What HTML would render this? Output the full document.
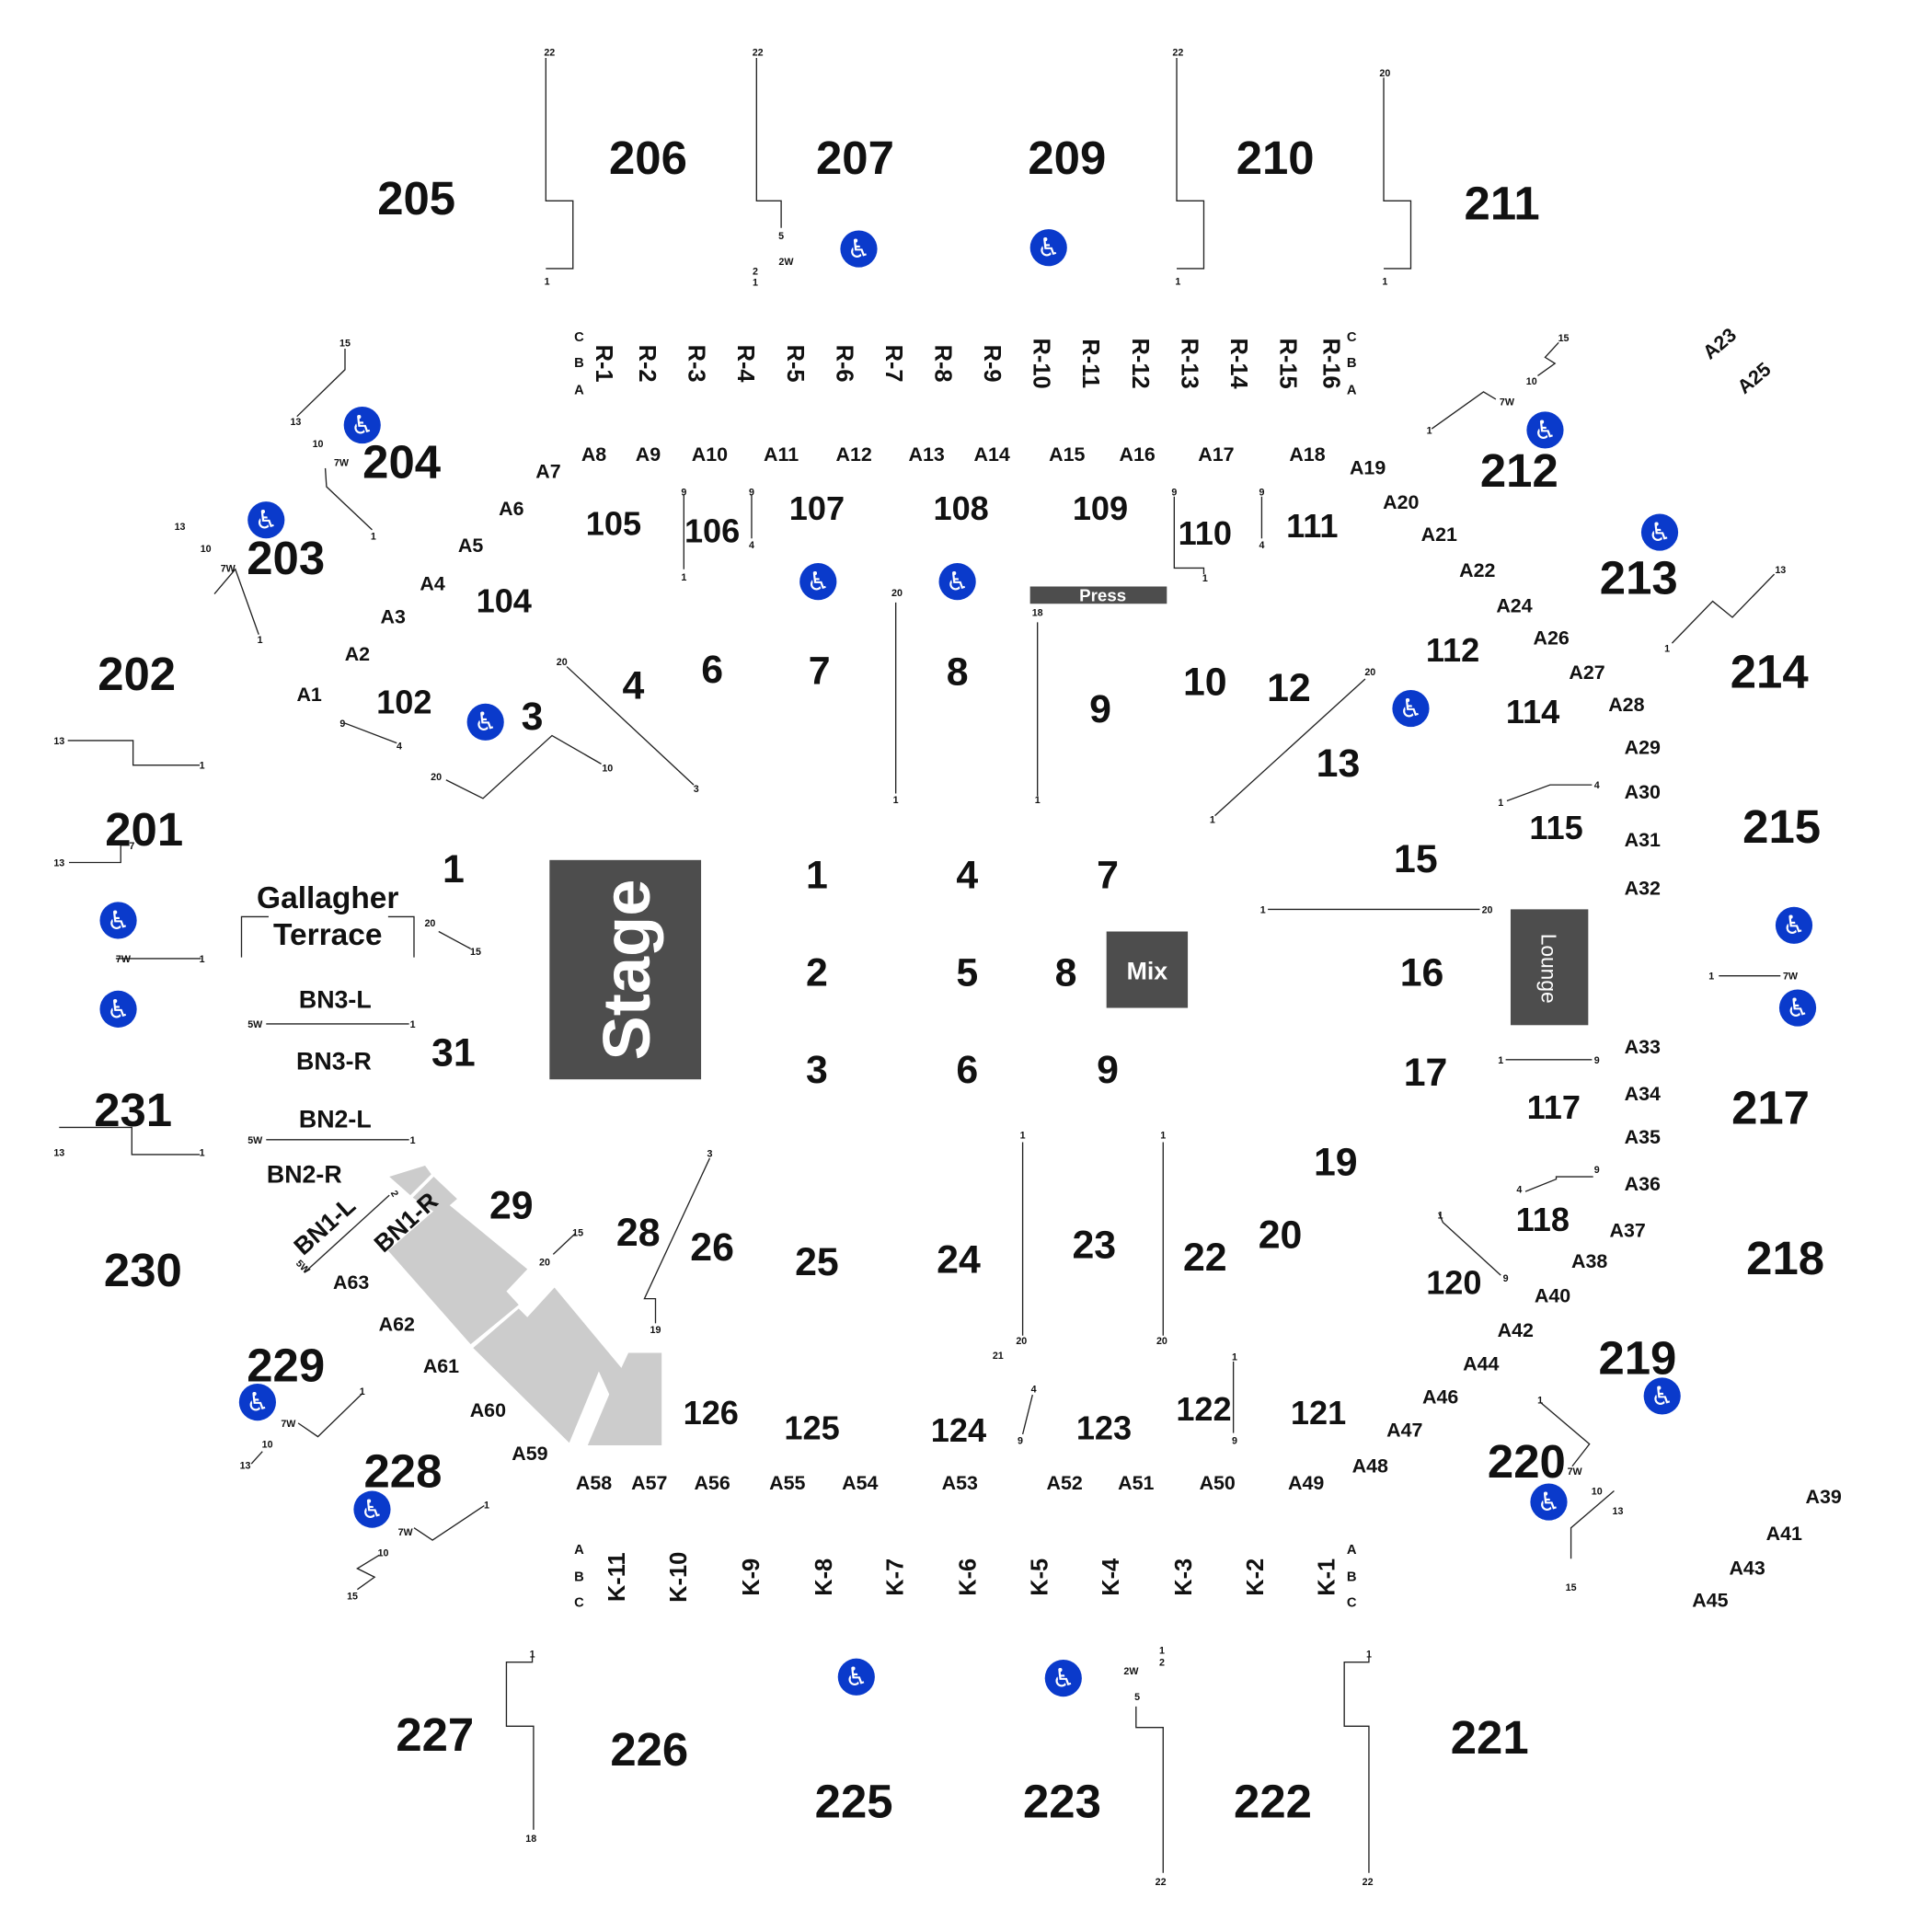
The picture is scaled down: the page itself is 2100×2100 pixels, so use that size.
<!DOCTYPE html>
<html><head><meta charset="utf-8"><style>
html,body{margin:0;padding:0;background:#fff}
svg{display:block}
text{font-family:"Liberation Sans",sans-serif;font-weight:bold;fill:#111;text-anchor:middle}
.b{font-size:38px}.m{font-size:27px}.f{font-size:32px}.a{font-size:16px}.s{font-size:8px;font-weight:normal}.r{font-size:19px}.c{font-size:11px;font-weight:normal}
line,polyline{stroke:#222;stroke-width:1;fill:none}
</style></head><body>
<svg width="2100" height="2100" viewBox="0 0 1568 1568" xmlns="http://www.w3.org/2000/svg">
<defs><g id="wc"><circle r="15" fill="#0a3acb"/><text y="7" style="font-size:21px;fill:#fff;font-family:'DejaVu Sans',sans-serif;font-weight:normal">♿</text></g></defs>
<rect x="446" y="698" width="123" height="178" fill="#4d4d4d"/>
<text transform="translate(527,787) rotate(-90)" style="font-size:54px;fill:#fff">Stage</text>
<rect x="898" y="756" width="66" height="62" fill="#4d4d4d"/>
<text x="931" y="795" style="font-size:20px;fill:#fff">Mix</text>
<rect x="1226" y="738" width="63" height="94" fill="#4d4d4d"/>
<text transform="translate(1251,786) rotate(90)" style="font-size:17px;fill:#fff;font-weight:normal">Lounge</text>
<rect x="836" y="476" width="111" height="14" fill="#4d4d4d"/>
<text x="895" y="488" style="font-size:14px;fill:#fff">Press</text>
<g fill="#cccccc">
<polygon points="316,955 345,946 350,953 333,970"/>
<polygon points="335,972 352,955 371,973 356,986"/>
<polygon points="315,1015 361,975 428,1030 411,1048 421,1059 382,1091"/>
<polygon points="384,1094 421,1062 428,1069 450,1045 505,1111 496,1135 486,1113 462,1171"/>
<polygon points="477,1173 496,1128 510,1098 537,1098 537,1173"/>
</g>
<polyline points="443,47 443,163 465,163 465,218 443,218"/>
<polyline points="614,47 614,163 634,163 634,185"/>
<polyline points="955,47 955,163 977,163 977,218 955,218"/>
<polyline points="1123,63 1123,163 1145,163 1145,218 1123,218"/>
<polyline points="280,283 280,300 241,338"/>
<polyline points="264,380 265,395 302,430"/>
<polyline points="174,482 191,462 210,515"/>
<polyline points="55,601 108,601 108,621 162,621"/>
<polyline points="56,700 98,700 98,686 105,686"/>
<polyline points="94,778 163,778"/>
<polyline points="48,915 107,915 107,937 162,937"/>
<polyline points="196,777 196,744 218,744"/>
<polyline points="315,744 336,744 336,777"/>
<line x1="356" y1="756" x2="382" y2="770"/>
<line x1="216" y1="831" x2="332" y2="831"/>
<line x1="216" y1="925" x2="332" y2="925"/>
<line x1="248" y1="1032" x2="316" y2="970"/>
<line x1="280" y1="587" x2="322" y2="603"/>
<polyline points="362,633 392,648 448,597 488,620"/>
<line x1="460" y1="541" x2="563" y2="637"/>
<line x1="555" y1="402" x2="555" y2="462"/>
<line x1="610" y1="402" x2="610" y2="437"/>
<line x1="727" y1="489" x2="727" y2="644"/>
<line x1="842" y1="505" x2="842" y2="646"/>
<polyline points="953,403 953,461 977,461 977,466"/>
<line x1="1024" y1="403" x2="1024" y2="437"/>
<polyline points="1162,348 1204,318 1214,324"/>
<polyline points="1265,278 1254,290 1262,295 1248,305"/>
<polyline points="1357,522 1390,488 1406,501 1440,466"/>
<line x1="986" y1="662" x2="1108" y2="551"/>
<polyline points="1223,650 1258,637 1292,637"/>
<line x1="1029" y1="738" x2="1201" y2="738"/>
<line x1="1395" y1="792" x2="1445" y2="792"/>
<line x1="1222" y1="860" x2="1292" y2="860"/>
<polyline points="1238,967 1263,957 1263,955 1293,955"/>
<polyline points="1168,985 1171,992 1218,1035"/>
<line x1="830" y1="927" x2="830" y2="1084"/>
<line x1="944" y1="927" x2="944" y2="1084"/>
<line x1="1001" y1="1105" x2="1001" y2="1163"/>
<line x1="838" y1="1132" x2="830" y2="1164"/>
<polyline points="576,940 523,1054 532,1054 532,1074"/>
<line x1="449" y1="1018" x2="467" y2="1001"/>
<polyline points="242,1155 258,1166 294,1131"/>
<line x1="204" y1="1188" x2="213" y2="1178"/>
<polyline points="336,1240 351,1250 393,1222"/>
<polyline points="290,1290 304,1280 290,1273 308,1262"/>
<polyline points="1250,1138 1290,1172 1276,1190"/>
<polyline points="1275,1265 1275,1240 1310,1210"/>
<polyline points="922,1385 922,1402 944,1402 944,1520"/>
<polyline points="432,1345 432,1349 411,1349 411,1401 433,1401 433,1485"/>
<polyline points="1111,1345 1111,1349 1091,1349 1091,1401 1111,1401 1111,1520"/>
<g class="s">
<text x="446" y="45">22</text><text x="444" y="231">1</text>
<text x="615" y="45">22</text><text x="634" y="194">5</text><text x="613" y="223">2</text><text x="613" y="232">1</text><text x="638" y="215">2W</text>
<text x="956" y="45">22</text><text x="956" y="231">1</text>
<text x="1124" y="62">20</text><text x="1124" y="231">1</text>
<text x="280" y="281">15</text><text x="240" y="345">13</text><text x="258" y="363">10</text><text x="277" y="378">7W</text><text x="303" y="438">1</text>
<text x="146" y="430">13</text><text x="167" y="448">10</text><text x="185" y="464">7W</text><text x="211" y="522">1</text>
<text x="48" y="604">13</text><text x="164" y="624">1</text>
<text x="48" y="703">13</text><text x="107" y="689">7</text>
<text x="100" y="781">7W</text><text x="164" y="781">1</text>
<text x="349" y="752">20</text><text x="386" y="775">15</text>
<text x="207" y="834">5W</text><text x="335" y="834">1</text>
<text x="207" y="928">5W</text><text x="335" y="928">1</text>
<text x="48" y="938">13</text><text x="164" y="938">1</text>
<text x="278" y="590">9</text><text x="324" y="608">4</text>
<text x="354" y="633">20</text><text x="493" y="626">10</text>
<text x="456" y="540">20</text><text x="565" y="643">3</text>
<text x="555" y="402">9</text><text x="555" y="471">1</text><text x="610" y="402">9</text><text x="610" y="445">4</text>
<text x="728" y="484">20</text><text x="727" y="652">1</text>
<text x="842" y="500">18</text><text x="842" y="652">1</text>
<text x="953" y="402">9</text><text x="978" y="472">1</text><text x="1024" y="402">9</text><text x="1024" y="445">4</text>
<text x="1160" y="352">1</text><text x="1223" y="329">7W</text><text x="1243" y="312">10</text><text x="1269" y="277">15</text>
<text x="1353" y="529">1</text><text x="1445" y="465">13</text>
<text x="1112" y="548">20</text><text x="984" y="668">1</text>
<text x="1218" y="654">1</text><text x="1296" y="640">4</text>
<text x="1025" y="741">1</text><text x="1207" y="741">20</text>
<text x="1389" y="795">1</text><text x="1453" y="795">7W</text>
<text x="1218" y="863">1</text><text x="1296" y="863">9</text>
<text x="1296" y="952">9</text><text x="1233" y="968">4</text>
<text x="1169" y="989">1</text><text x="1222" y="1040">9</text>
<text x="830" y="924">1</text><text x="829" y="1091">20</text><text x="944" y="924">1</text><text x="943" y="1091">20</text>
<text x="1002" y="1104">1</text><text x="1002" y="1172">9</text>
<text x="810" y="1103">21</text><text x="839" y="1130">4</text><text x="828" y="1172">9</text>
<text x="576" y="939">3</text><text x="532" y="1082">19</text>
<text x="469" y="1003">15</text><text x="442" y="1027">20</text>
<text x="294" y="1132">1</text><text x="234" y="1158">7W</text><text x="217" y="1175">10</text><text x="199" y="1192">13</text>
<text x="395" y="1224">1</text><text x="329" y="1246">7W</text><text x="311" y="1263">10</text><text x="286" y="1298">15</text>
<text x="1250" y="1139">1</text><text x="1278" y="1197">7W</text><text x="1296" y="1213">10</text><text x="1313" y="1229">13</text><text x="1275" y="1291">15</text>
<text x="943" y="1342">1</text><text x="943" y="1352">2</text><text x="918" y="1359">2W</text><text x="923" y="1380">5</text><text x="942" y="1530">22</text>
<text x="432" y="1345">1</text><text x="431" y="1495">18</text>
<text x="1111" y="1345">1</text><text x="1110" y="1530">22</text>
<text transform="translate(318,970) rotate(60)">2</text><text transform="translate(244,1030) rotate(45)">5W</text>
</g>
<g class="c"><text x="470" y="277">C</text><text x="470" y="298">B</text><text x="470" y="320">A</text>
<text x="1097" y="277">C</text><text x="1097" y="298">B</text><text x="1097" y="320">A</text>
<text x="470" y="1261">A</text><text x="470" y="1283">B</text><text x="470" y="1304">C</text>
<text x="1097" y="1261">A</text><text x="1097" y="1283">B</text><text x="1097" y="1304">C</text></g>
<g class="r">
<text transform="translate(484,295) rotate(90)">R-1</text><text transform="translate(519,295) rotate(90)">R-2</text>
<text transform="translate(559,295) rotate(90)">R-3</text><text transform="translate(599,295) rotate(90)">R-4</text>
<text transform="translate(639,295) rotate(90)">R-5</text><text transform="translate(679,295) rotate(90)">R-6</text>
<text transform="translate(719,295) rotate(90)">R-7</text><text transform="translate(759,295) rotate(90)">R-8</text>
<text transform="translate(799,295) rotate(90)">R-9</text><text transform="translate(839,295) rotate(90)">R-10</text>
<text transform="translate(879,295) rotate(90)">R-11</text><text transform="translate(919,295) rotate(90)">R-12</text>
<text transform="translate(959,295) rotate(90)">R-13</text><text transform="translate(999,295) rotate(90)">R-14</text>
<text transform="translate(1039,295) rotate(90)">R-15</text><text transform="translate(1074,295) rotate(90)">R-16</text>
<text transform="translate(507,1280) rotate(-90)">K-11</text><text transform="translate(557,1280) rotate(-90)">K-10</text>
<text transform="translate(616,1280) rotate(-90)">K-9</text><text transform="translate(675,1280) rotate(-90)">K-8</text>
<text transform="translate(733,1280) rotate(-90)">K-7</text><text transform="translate(792,1280) rotate(-90)">K-6</text>
<text transform="translate(850,1280) rotate(-90)">K-5</text><text transform="translate(908,1280) rotate(-90)">K-4</text>
<text transform="translate(967,1280) rotate(-90)">K-3</text><text transform="translate(1025,1280) rotate(-90)">K-2</text>
<text transform="translate(1083,1280) rotate(-90)">K-1</text>
</g>
<g class="b">
<text x="338" y="174">205</text><text x="526" y="141">206</text><text x="694" y="141">207</text><text x="866" y="141">209</text><text x="1035" y="141">210</text><text x="1219" y="178">211</text>
<text x="1233" y="395">212</text><text x="1330" y="482">213</text><text x="1436" y="558">214</text><text x="1446" y="684">215</text><text x="1437" y="912">217</text><text x="1449" y="1034">218</text><text x="1329" y="1115">219</text><text x="1239" y="1199">220</text>
<text x="1209" y="1423">221</text><text x="1033" y="1475">222</text><text x="862" y="1475">223</text><text x="693" y="1475">225</text><text x="527" y="1433">226</text><text x="353" y="1421">227</text>
<text x="327" y="1207">228</text><text x="232" y="1121">229</text><text x="116" y="1044">230</text><text x="108" y="914">231</text><text x="117" y="686">201</text><text x="111" y="560">202</text><text x="232" y="466">203</text><text x="326" y="388">204</text>
</g>
<g class="m">
<text x="498" y="434">105</text><text x="578" y="440">106</text><text x="663" y="422">107</text><text x="780" y="422">108</text><text x="893" y="422">109</text><text x="978" y="442">110</text><text x="1065" y="436">111</text>
<text x="409" y="497">104</text><text x="328" y="579">102</text><text x="1179" y="537">112</text><text x="1244" y="587">114</text><text x="1263" y="681">115</text><text x="1261" y="908">117</text><text x="1252" y="999">118</text><text x="1180" y="1050">120</text>
<text x="1070" y="1156">121</text><text x="977" y="1153">122</text><text x="896" y="1168">123</text><text x="778" y="1170">124</text><text x="659" y="1168">125</text><text x="577" y="1156">126</text>
<text x="266" y="737" style="font-size:25px">Gallagher</text><text x="266" y="767" style="font-size:25px">Terrace</text>
</g>
<g class="f">
<text x="432" y="592">3</text><text x="514" y="567">4</text><text x="578" y="554">6</text><text x="665" y="555">7</text><text x="777" y="556">8</text><text x="893" y="586">9</text><text x="978" y="564">10</text><text x="1046" y="569">12</text><text x="1086" y="630">13</text>
<text x="1149" y="708">15</text><text x="1154" y="800">16</text><text x="1157" y="881">17</text><text x="1084" y="954">19</text><text x="1039" y="1013">20</text><text x="978" y="1031">22</text><text x="888" y="1021">23</text><text x="778" y="1033">24</text><text x="663" y="1035">25</text><text x="578" y="1023">26</text><text x="518" y="1011">28</text><text x="415" y="989">29</text><text x="368" y="865">31</text><text x="368" y="716">1</text>
<text x="663" y="721">1</text><text x="663" y="800">2</text><text x="663" y="879">3</text><text x="785" y="721">4</text><text x="785" y="800">5</text><text x="785" y="879">6</text><text x="899" y="721">7</text><text x="865" y="800">8</text><text x="899" y="879">9</text>
</g>
<g style="font-size:20px"><text x="272" y="818">BN3-L</text><text x="271" y="868">BN3-R</text><text x="272" y="915">BN2-L</text><text x="247" y="960">BN2-R</text>
<text transform="translate(268,1000) rotate(-42)">BN1-L</text><text transform="translate(334,997) rotate(-42)">BN1-R</text></g>
<g class="a">
<text x="251" y="569">A1</text><text x="290" y="536">A2</text><text x="319" y="506">A3</text><text x="351" y="479">A4</text><text x="382" y="448">A5</text><text x="415" y="418">A6</text><text x="445" y="388">A7</text>
<text x="482" y="374">A8</text><text x="526" y="374">A9</text><text x="576" y="374">A10</text><text x="634" y="374">A11</text><text x="693" y="374">A12</text><text x="752" y="374">A13</text><text x="805" y="374">A14</text><text x="866" y="374">A15</text><text x="923" y="374">A16</text><text x="987" y="374">A17</text><text x="1061" y="374">A18</text>
<text x="1110" y="385">A19</text><text x="1137" y="413">A20</text><text x="1168" y="439">A21</text><text x="1199" y="468">A22</text><text x="1229" y="497">A24</text><text x="1259" y="523">A26</text><text x="1288" y="551">A27</text><text x="1320" y="577">A28</text>
<text x="1333" y="612">A29</text><text x="1333" y="648">A30</text><text x="1333" y="687">A31</text><text x="1333" y="726">A32</text><text x="1333" y="855">A33</text><text x="1333" y="893">A34</text><text x="1333" y="928">A35</text><text x="1333" y="966">A36</text>
<text x="1321" y="1004">A37</text><text x="1290" y="1029">A38</text><text x="1260" y="1057">A40</text><text x="1230" y="1085">A42</text><text x="1202" y="1112">A44</text><text x="1169" y="1139">A46</text><text x="1140" y="1166">A47</text><text x="1112" y="1195">A48</text>
<text x="1060" y="1209">A49</text><text x="988" y="1209">A50</text><text x="922" y="1209">A51</text><text x="864" y="1209">A52</text><text x="779" y="1209">A53</text><text x="698" y="1209">A54</text><text x="639" y="1209">A55</text><text x="578" y="1209">A56</text><text x="527" y="1209">A57</text><text x="482" y="1209">A58</text>
<text x="430" y="1185">A59</text><text x="396" y="1150">A60</text><text x="358" y="1114">A61</text><text x="322" y="1080">A62</text><text x="285" y="1046">A63</text>
<text x="1480" y="1220">A39</text><text x="1448" y="1250">A41</text><text x="1418" y="1278">A43</text><text x="1388" y="1304">A45</text>
<text transform="translate(1399,283) rotate(-40)">A23</text><text transform="translate(1427,311) rotate(-40)">A25</text>
</g>
<use href="#wc" x="697" y="202"/><use href="#wc" x="851" y="201"/><use href="#wc" x="294" y="345"/><use href="#wc" x="216" y="422"/>
<use href="#wc" x="664" y="472"/><use href="#wc" x="777" y="472"/><use href="#wc" x="394" y="586"/><use href="#wc" x="1254" y="349"/>
<use href="#wc" x="1347" y="432"/><use href="#wc" x="1145" y="575"/><use href="#wc" x="96" y="747"/><use href="#wc" x="96" y="819"/>
<use href="#wc" x="1456" y="751"/><use href="#wc" x="1459" y="818"/><use href="#wc" x="1349" y="1133"/><use href="#wc" x="1257" y="1219"/>
<use href="#wc" x="209" y="1138"/><use href="#wc" x="302" y="1225"/><use href="#wc" x="695" y="1361"/><use href="#wc" x="863" y="1362"/>
</svg>
</body></html>
